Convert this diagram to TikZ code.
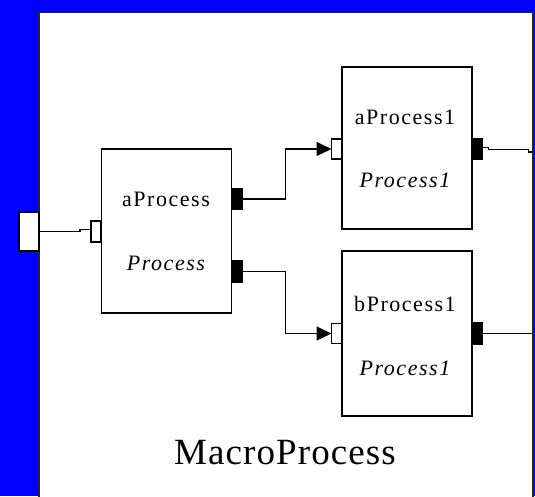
\documentclass[tikz,border=0pt]{standalone}
\usepackage{fontspec}
\setmainfont{Liberation Serif}
\newfontfamily\lblfont[LetterSpace=7]{Liberation Serif}
\newfontfamily\titlefont[LetterSpace=3]{Liberation Serif}
\usetikzlibrary{arrows.meta}
\begin{document}
\begin{tikzpicture}[x=1pt,y=-1pt,
  procbox/.style={draw=black, line width=1.6pt, fill=white, inner sep=0pt, outer sep=0pt, minimum width=130pt},
  inport/.style={draw=black, fill=white, line width=1.4pt, inner sep=0pt, outer sep=0pt, minimum width=10pt, minimum height=20pt},
  outport/.style={draw=black, fill=black, line width=1.4pt, inner sep=0pt, outer sep=0pt, minimum width=10pt, minimum height=21pt},
  extport/.style={draw=black, fill=white, line width=1.5pt, inner sep=0pt, outer sep=0pt, minimum width=20pt, minimum height=39pt},
  wire/.style={draw=black, line width=1.3pt},
  arrowwire/.style={wire, -{Triangle[length=15pt,width=14pt]}},
  lbl/.style={font=\lblfont\fontsize{22}{26}\selectfont, anchor=base, inner sep=0pt},
  lbli/.style={font=\lblfont\itshape\fontsize{22}{26}\selectfont, anchor=base, inner sep=0pt},
  titlelbl/.style={font=\titlefont\fontsize{37}{44}\selectfont, anchor=base, inner sep=0pt}]
\useasboundingbox (0,0) rectangle (535,496);
\clip (0,0) rectangle (535,496);
\fill[blue] (0,0) rectangle (535,496);
\draw[fill=white, draw=black!85, line width=1.8pt] (39,12.5) rectangle (533,520);

% process boxes
\node[procbox, minimum height=164pt] (aP) at (166.5,231) {};
\node[procbox, minimum height=162pt] (aP1) at (407,148) {};
\node[procbox, minimum height=165pt] (bP1) at (407,333.5) {};

% ports
\node[extport] (ext) at (29,231.5) {};
\node[inport, minimum height=21pt] (aIn) at (96,231.5) {};
\node[outport] (aOut1) at (237.5,199) {};
\node[outport] (aOut2) at (237.5,271.5) {};
\node[inport] (a1In) at (336.5,149) {};
\node[outport] (a1Out) at (477.5,149) {};
\node[inport] (b1In) at (336.5,333.5) {};
\node[outport] (b1Out) at (477.5,333.5) {};

\coordinate (r1) at (532.5,152);
\coordinate (r2) at (532.5,333.5);

% connectors
\draw[wire] (ext.east) -- ++(41,0) |- ([yshift=2pt]aIn.west);
\draw[arrowwire] (aOut1.east) -- ++(43,0) |- (a1In.west);
\draw[arrowwire] (aOut2.east) -- ++(43,0) |- (b1In.west);
\draw[wire] ([yshift=1.5pt]a1Out.east) -- ++(6,0) -- ++(0,2) -- ++(40,0) |- (r1);
\draw[wire] (b1Out.east) -- (r2);

% labels
\node[lbl] (t1) at (166,206) {aProcess};
\node[lbli] (t2) at (166,270) {Process};
\node[lbl] (t3) at (405,124) {aProcess1};
\node[lbli] (t4) at (405,187) {Process1};
\node[lbl] (t5) at (405,311) {bProcess1};
\node[lbli] (t6) at (405,375) {Process1};
\node[titlelbl] (t7) at (285,464) {MacroProcess};
\end{tikzpicture}
\end{document}
